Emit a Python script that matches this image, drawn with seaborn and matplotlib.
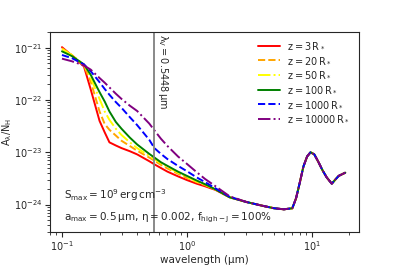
import matplotlib
matplotlib.use("Agg")
import matplotlib.pyplot as plt
import seaborn as sns
import numpy as np
import pandas as pd

# wavelength grid (micron)
wl_short = [0.1, 0.12, 0.15, 0.17, 0.2, 0.22, 0.24, 0.27, 0.3, 0.35, 0.4,
            0.5, 0.55, 0.62, 0.7, 0.85, 1.0, 1.2, 1.4, 1.7, 2.2]
wl_tail = [3.0, 4.0, 5.0, 6.0, 7.0, 7.5, 8.0, 8.6, 9.2, 9.8, 10.5, 11.3,
           12.2, 13.2, 14.5, 15.5, 16.5, 18.6]

# log10(A_lambda/N_H)
z3 = [-20.99, -21.15, -21.36, -21.80, -22.40, -22.62, -22.81, -22.87, -22.92, -22.98, -23.04,
      -23.17, -23.23, -23.30, -23.37, -23.46, -23.53, -23.60, -23.65, -23.72, -23.86]
z20 = [-21.01, -21.14, -21.34, -21.65, -22.22, -22.46, -22.57, -22.68, -22.78, -22.88, -22.97,
       -23.10, -23.16, -23.24, -23.31, -23.41, -23.49, -23.57, -23.63, -23.71, -23.86]
z50 = [-21.03, -21.14, -21.33, -21.58, -21.98, -22.22, -22.38, -22.55, -22.67, -22.81, -22.92,
       -23.07, -23.13, -23.21, -23.28, -23.39, -23.47, -23.56, -23.62, -23.71, -23.86]
z100 = [-21.07, -21.16, -21.32, -21.52, -21.85, -22.03, -22.22, -22.42, -22.55, -22.72, -22.85,
        -23.03, -23.10, -23.19, -23.26, -23.37, -23.45, -23.54, -23.61, -23.71, -23.86]
z1000 = [-21.14, -21.20, -21.32, -21.45, -21.66, -21.79, -21.90, -22.04, -22.15, -22.33, -22.48,
         -22.76, -22.92, -23.03, -23.13, -23.26, -23.36, -23.48, -23.57, -23.69, -23.85]
z10000 = [-21.21, -21.26, -21.34, -21.42, -21.58, -21.67, -21.76, -21.88, -21.98, -22.11, -22.21,
          -22.45, -22.58, -22.74, -22.88, -23.08, -23.22, -23.38, -23.51, -23.65, -23.84]
tail = [-23.95, -24.02, -24.07, -24.09, -24.07, -23.88, -23.60, -23.27, -23.08, -23.00, -23.04,
        -23.18, -23.34, -23.48, -23.60, -23.52, -23.45, -23.39]

labels = ["3", "20", "50", "100", "1000", "10000"]
colors = ["red", "orange", "yellow", "green", "blue", "purple"]
styles = ["-", "--", "-.", "-", "--", "-."]
series = [z3, z20, z50, z100, z1000, z10000]

sns.set_style("ticks")
fig, ax = plt.subplots(figsize=(3.99, 2.66), dpi=100)
fig.subplots_adjust(left=0.125, right=0.9, bottom=0.128, top=0.88)

wl = wl_short + wl_tail
for lab, col, ls, vals in zip(labels, colors, styles, series):
    df = pd.DataFrame({"wl": wl, "ext": 10 ** np.array(vals + tail)})
    sns.lineplot(data=df, x="wl", y="ext", ax=ax, color=col, ls=ls, lw=1.4,
                 label=r"$\rm z = %s\,R_*$" % lab)

ax.set_xscale("log")
ax.set_yscale("log")
ax.set_xticks([0.1, 1, 10])
ax.set_yticks([1e-24, 1e-23, 1e-22, 1e-21])
ax.set_xlim(0.08, 24)
ax.set_ylim(3e-25, 2e-21)

ax.axvline(0.5448, color="grey", lw=1.3)
ax.text(0.57, 1.85e-21, r"$\rm \lambda_V = 0.5448\,\mu m$", rotation=270,
        va="top", ha="left", fontsize=7)

ax.text(0.045, 0.185, r"$\rm S_{max} = 10^9\,erg\,cm^{-3}$", transform=ax.transAxes,
        fontsize=7.5, va="center")
ax.text(0.045, 0.07, r"$\rm a_{max} = 0.5\,\mu m,\,\eta = 0.002,\,f_{high-J} = 100\%$",
        transform=ax.transAxes, fontsize=7.5, va="center")

ax.set_xlabel("wavelength (μm)", fontsize=7.5, labelpad=1)
ax.set_ylabel(r"$\rm A_\lambda/N_H$", fontsize=7, labelpad=0)
ax.tick_params(labelsize=7, pad=2)
ax.legend(loc="upper right", frameon=False, fontsize=7, handlelength=2.2,
          labelspacing=0.45, bbox_to_anchor=(1.0, 1.0))

fig.savefig("out.png", dpi=100)
